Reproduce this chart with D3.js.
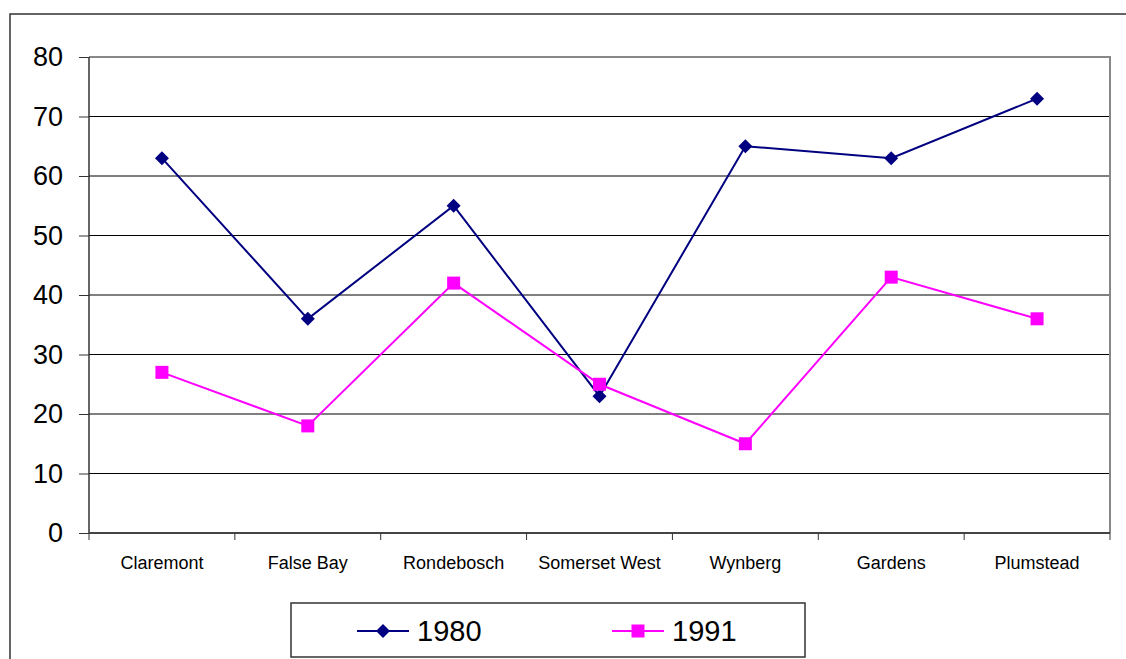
<!DOCTYPE html>
<html><head><meta charset="utf-8">
<script src="https://cdn.jsdelivr.net/npm/d3@7"></script>
<style>body{margin:0;background:#fff;} svg{display:block;font-family:"Liberation Sans",Arial,sans-serif;}</style>
</head><body>
<svg id="c" width="1126" height="659"></svg>
<script>
const categories = ["Claremont","False Bay","Rondebosch","Somerset West","Wynberg","Gardens","Plumstead"];
const values1980 = [63,36,55,23,65,63,73];
const values1991 = [27,18,42,25,15,43,36];
const yTicks = [0,10,20,30,40,50,60,70,80];
const seriesNames = ["1980","1991"];

const svg = d3.select("#c");
const L=89,R=1110,T=57,B=533;
const x = d3.scaleBand().domain(categories).range([L,R]);
const y = d3.scaleLinear().domain([0,80]).range([B,T]);

// outer border
svg.append("rect").attr("x",10).attr("y",14).attr("width",1130).attr("height",700)
  .attr("fill","none").attr("stroke","#333").attr("stroke-width",1.5);

// gridlines
svg.append("g").selectAll("line").data(yTicks.filter(d=>d>0&&d<80)).join("line")
  .attr("x1",L).attr("x2",R).attr("y1",d=>y(d)).attr("y2",d=>y(d))
  .attr("stroke","#000").attr("stroke-width",1);
// plot border top/right
svg.append("path").attr("d",`M${L},${y(80)}H${R}V${B}`).attr("fill","none").attr("stroke","#888").attr("stroke-width",2);

// y axis
const yAxis = d3.axisLeft(y).tickValues(yTicks).tickSize(10).tickPadding(16);
const gy = svg.append("g").attr("transform",`translate(${L},0)`).call(yAxis);
gy.select(".domain").attr("stroke","#333").attr("stroke-width",1.5).attr("d",`M0,${T}V${B}`);
gy.selectAll(".tick line").attr("stroke","#333");
gy.selectAll("text").attr("font-size",27).attr("fill","#000").attr("font-family","Liberation Sans, Arial, sans-serif");

// x axis
const xAxis = d3.axisBottom(x).tickSize(0).tickPadding(20);
const gx = svg.append("g").attr("transform",`translate(0,${B})`).call(xAxis);
gx.select(".domain").attr("stroke","#444").attr("stroke-width",2).attr("d",`M${L},0H${R}`);
gx.selectAll("text").attr("font-size",18).attr("fill","#000").attr("font-family","Liberation Sans, Arial, sans-serif").attr("dy","0.9em");
// boundary ticks
const bounds = categories.map(c=>x(c)).concat([R]);
svg.append("g").selectAll("line").data(bounds).join("line")
  .attr("x1",d=>d).attr("x2",d=>d).attr("y1",B).attr("y2",B+7).attr("stroke","#333");

const cx = d=>x(d)+x.bandwidth()/2;
const line = d3.line().x((d,i)=>cx(categories[i])).y(d=>y(d));
const colors = ["#000080","#FF00FF"];
const data = [values1980, values1991];

data.forEach((vals,si)=>{
  svg.append("path").datum(vals).attr("d",line).attr("fill","none").attr("stroke",colors[si]).attr("stroke-width",2);
});
// markers
const diamond = s=>`M0,${-s}L${s},0L0,${s}L${-s},0Z`;
svg.append("g").selectAll("path").data(values1980).join("path")
  .attr("transform",(d,i)=>`translate(${cx(categories[i])},${y(d)})`)
  .attr("d",diamond(7)).attr("fill",colors[0]);
svg.append("g").selectAll("rect").data(values1991).join("rect")
  .attr("x",(d,i)=>cx(categories[i])-6.5).attr("y",d=>y(d)-6.5).attr("width",13).attr("height",13).attr("fill",colors[1]);

// legend
svg.append("rect").attr("x",291).attr("y",603).attr("width",514).attr("height",54)
  .attr("fill","#fff").attr("stroke","#333").attr("stroke-width",1.5);
const legX = [357,612];
seriesNames.forEach((n,i)=>{
  const g = svg.append("g").attr("transform",`translate(${legX[i]},631)`);
  g.append("line").attr("x1",0).attr("x2",52).attr("stroke",colors[i]).attr("stroke-width",2);
  if(i===0) g.append("path").attr("d",diamond(7)).attr("transform","translate(26,0)").attr("fill",colors[0]);
  else g.append("rect").attr("x",26-6.5).attr("y",-6.5).attr("width",13).attr("height",13).attr("fill",colors[1]);
  g.append("text").attr("x",60).attr("y",10).attr("font-size",29).text(n);
});
</script>
</body></html>
